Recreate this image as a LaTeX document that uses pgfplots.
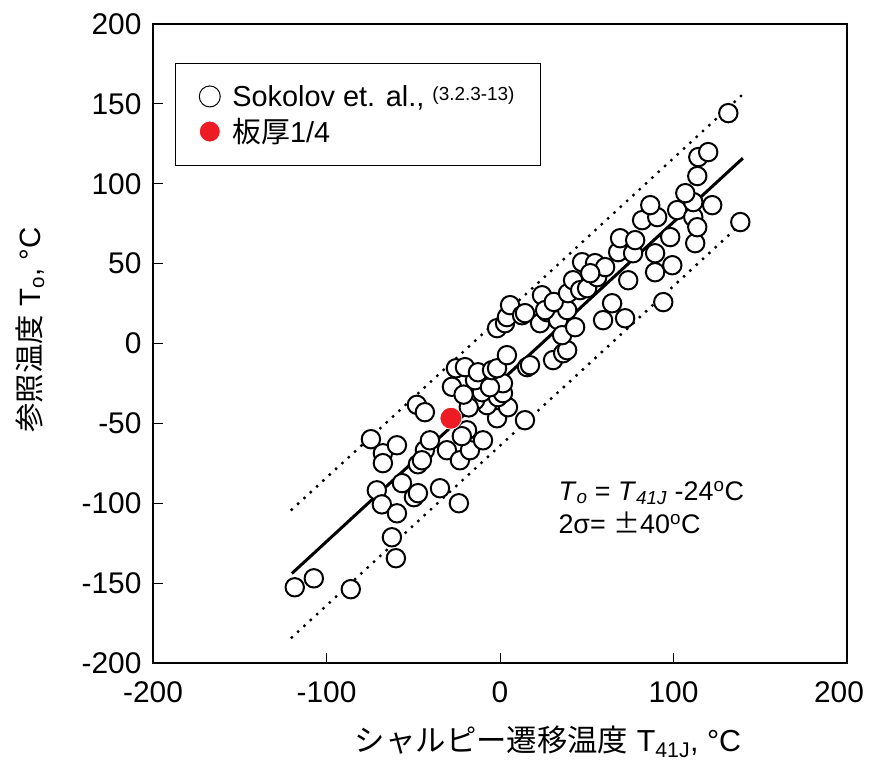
\documentclass[border=0pt]{standalone}
\usepackage{pgfplots}
\pgfplotsset{compat=1.18}
\usepackage{pgfplotstable}
\usepackage{fontspec}
\setmainfont{Liberation Sans}
\newfontfamily\jp{Noto Sans CJK JP}
\definecolor{redpt}{RGB}{237,28,36}

\pgfplotstableread{
x y
-118.3 -152.6
-107.3 -147.0
-86.0 -153.8
-60.0 -134.4
-62.3 -121.3
-71.0 -91.9
-68.1 -100.7
-59.4 -106.3
-56.5 -87.4
-49.6 -96.2
-47.3 -93.7
-34.6 -90.6
-23.7 -100.0
-74.4 -59.9
-67.5 -68.7
-67.5 -74.9
-59.4 -63.7
-47.3 -75.6
-43.3 -66.8
-40.4 -60.6
-45.0 -73.1
-47.9 -38.4
-43.3 -43.0
-30.6 -66.8
-23.1 -73.1
-17.3 -66.8
-9.8 -60.6
-19.0 -54.3
-22.0 -58.0
14.4 -48.0
-1.7 -46.8
4.6 -39.9
-7.5 -38.6
-14.4 -35.6
-1.2 -33.6
-10.4 -30.5
-18.0 -40.0
1.7 -31.1
1.7 -24.9
-27.7 -27.1
-14.4 -23.0
-5.8 -27.4
-21.0 -32.0
-25.4 -15.5
-20.2 -14.8
-12.7 -18.0
-4.6 -16.7
-1.7 -15.5
4.0 -7.3
15.6 -14.8
17.3 -13.6
30.6 -10.4
36.4 -6.1
38.7 -4.2
-1.7 9.6
2.9 12.7
4.0 16.5
5.8 24.0
12.7 17.7
23.1 12.7
27.1 19.6
33.5 14.6
35.8 5.2
43.3 10.2
38.7 20.9
24.2 30.2
14.4 19.0
26.0 20.9
31.0 26.0
39.2 31.5
42.1 39.6
46.2 33.4
50.2 34.6
56.0 41.5
47.3 50.9
54.8 50.3
60.6 47.8
52.0 44.0
59.4 14.6
64.6 25.2
72.1 15.8
73.9 39.6
68.1 57.2
76.7 56.5
69.2 65.9
77.9 64.7
89.4 56.5
89.4 44.6
99.3 49.0
94.1 25.9
98.1 66.6
112.5 62.8
81.9 77.2
90.6 79.1
86.6 86.6
102.1 83.5
111.4 79.1
113.7 72.8
122.3 86.6
111.4 88.5
106.8 94.1
138.5 76.0
113.7 104.8
114.3 116.7
120.0 119.8
131.6 144.2
}\sokolov

\pgfplotstableread{
x y
-28.3 -46.8
}\plate

\begin{document}
\begin{tikzpicture}[x=1bp,y=1bp]
\begin{axis}[
  name=ax, at={(0,0)}, anchor=south west,
  scale only axis, width=694bp, height=639bp,
  xmin=-200, xmax=200, ymin=-200, ymax=200,
  xtick={-200,-100,...,200}, ytick={-200,-150,...,200},
  xticklabels={-200,-100,0,100,\makebox[0pt][c]{\hspace{-16bp}200}},
  tick align=inside, xtick pos=bottom, ytick pos=left,
  major tick length=10bp,
  axis line style={line width=2.5bp},
  tick style={line width=1bp, black},
  /pgf/number format/assume math mode=true,
  ticklabel style={font=\fontsize{30}{34}\selectfont},
  xticklabel style={yshift=-15bp},
  yticklabel style={xshift=-8bp},
  clip=false,
  legend cell align=left,
  legend style={at={(axis cs:-187.5,175.5)}, anchor=north west,
    draw=black, line width=1.2bp, inner xsep=24bp, inner ysep=19.5bp,
    row sep=7bp, column sep=10bp, font=\fontsize{29}{33}\selectfont},
]
\addplot[black, line width=3bp, no marks, forget plot] coordinates {(-120,-144) (140,116)};
\addplot[black, line width=3.4bp, line cap=round, dash pattern=on 0bp off 8.6bp, no marks, forget plot] coordinates {(-120,-104) (140,156)};
\addplot[black, line width=3.4bp, line cap=round, dash pattern=on 0bp off 8.6bp, no marks, forget plot] coordinates {(-120,-184) (140,76)};
\addplot[only marks, mark=*, mark size=9.2bp, mark options={fill=white, draw=black, line width=2bp},
  legend image post style={mark size=10.5bp, mark options={fill=white, draw=black, line width=1bp}}]
  table[x=x, y=y] {\sokolov};
\addlegendentry{Sokolov et. al., \raisebox{6bp}{\fontsize{19}{22}\selectfont (3.2.3-13)}\hspace{18bp}}
\addplot[only marks, mark=*, mark size=11bp, mark options={fill=redpt, draw=white, line width=0.8bp},
  legend image post style={mark size=10.5bp}]
  table[x=x, y=y] {\plate};
\addlegendentry{{\jp 板厚}1/4}

\node[anchor=base west, font=\fontsize{27}{31}\selectfont] at (axis cs:31.7,-98)
  {\textit{T}\textsubscript{\textit{o}} = \textit{T}\textsubscript{\textit{41J}} -24\textsuperscript{o}C};
\node[anchor=base west, font=\fontsize{27}{31}\selectfont] at (axis cs:31.7,-119)
  {2σ= {\jp ±}40\textsuperscript{o}C};
\end{axis}
\node[rotate=90, anchor=center, font=\fontsize{29.5}{33}\selectfont] at (-123bp, 333bp)
  {{\jp 参照温度} T\textsubscript{o}, °C};
\node[anchor=center, font=\fontsize{30.5}{34}\selectfont] at (395bp, -79bp)
  {{\jp シャルピー遷移温度} T\textsubscript{41J}, °C};
\pgfresetboundingbox
\useasboundingbox (-153bp,-104bp) rectangle (717bp,663bp);
\end{tikzpicture}
\end{document}
